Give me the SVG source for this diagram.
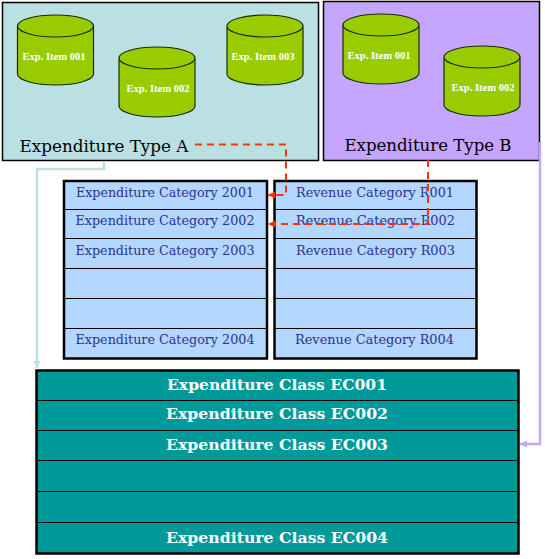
<svg xmlns="http://www.w3.org/2000/svg" width="545" height="559" viewBox="0 0 545 559">
<style>
.panel{stroke:#000;stroke-width:1.5}
.cyl{fill:#99cc00;stroke:#1a2a00;stroke-width:1.2}
.it{font:bold 11px "Liberation Serif",serif;fill:#fff;text-anchor:middle}
.ty{font:17px "DejaVu Serif",serif;fill:#000;text-anchor:middle}
.cell{fill:#b3d7ff;stroke:#000;stroke-width:1}
.out{fill:none;stroke:#000;stroke-width:2.5}
.cat{font:13px "DejaVu Serif",serif;fill:#2e3192;text-anchor:middle}
.cls{fill:#009999;stroke:#000;stroke-width:1}
.cl{font:bold 15px "DejaVu Serif",serif;fill:#fff;text-anchor:middle}
.c{fill:none}
</style>
<defs>
<marker id="ab" markerUnits="userSpaceOnUse" markerWidth="8" markerHeight="8" refX="7" refY="3.500" orient="auto"><path d="M0 0L7 3.500L0 7z" fill="#bbe0e3"/></marker>
<marker id="ar" markerUnits="userSpaceOnUse" markerWidth="8" markerHeight="8" refX="7" refY="3.500" orient="auto"><path d="M0 0L7 3.500L0 7z" fill="#ff3300"/></marker>
<marker id="ap" markerUnits="userSpaceOnUse" markerWidth="8" markerHeight="8" refX="7" refY="3.500" orient="auto"><path d="M0 0L7 3.500L0 7z" fill="#c4a6ff"/></marker>
<path id="cy" class="cyl" d="M0 11A38 11 0 0 1 76 11V59A38 11 0 0 1 0 59Z M76 11A38 11 0 0 1 0 11"/>
</defs>
<g id="type-a">
<rect class="panel" x="2.500" y="2.500" width="316" height="158" fill="#bbe0e3"/>
<text class="ty" x="104" y="152" textLength="169" lengthAdjust="spacingAndGlyphs">Expenditure Type A</text>
</g>
<g id="type-b">
<rect class="panel" x="323.500" y="1.500" width="216" height="159" fill="#c4a6ff"/>
<text class="ty" x="428" y="151" textLength="167" lengthAdjust="spacingAndGlyphs">Expenditure Type B</text>
</g>
<g id="a-item-001"><use href="#cy" x="17.500" y="15"/><text class="it" x="54" y="60" textLength="63" lengthAdjust="spacingAndGlyphs">Exp. Item 001</text></g>
<g id="a-item-002"><use href="#cy" x="119" y="47"/><text class="it" x="158" y="92" textLength="63" lengthAdjust="spacingAndGlyphs">Exp. Item 002</text></g>
<g id="a-item-003"><use href="#cy" x="227" y="15"/><text class="it" x="263" y="60" textLength="63" lengthAdjust="spacingAndGlyphs">Exp. Item 003</text></g>
<g id="b-item-001"><use href="#cy" x="343" y="14"/><text class="it" x="379" y="59" textLength="63" lengthAdjust="spacingAndGlyphs">Exp. Item 001</text></g>
<g id="b-item-002"><use href="#cy" x="444" y="46"/><text class="it" x="483" y="91" textLength="63" lengthAdjust="spacingAndGlyphs">Exp. Item 002</text></g>
<g id="expenditure-categories">
<rect class="cell" x="64" y="181" width="203" height="28.500"/>
<rect class="cell" x="64" y="209.500" width="203" height="29"/>
<rect class="cell" x="64" y="238.500" width="203" height="30"/>
<rect class="cell" x="64" y="268.500" width="203" height="30"/>
<rect class="cell" x="64" y="298.500" width="203" height="30"/>
<rect class="cell" x="64" y="328.500" width="203" height="30"/>
<rect class="out" x="64" y="181" width="203" height="177.500"/>
<text class="cat" x="165" y="196.500" textLength="178" lengthAdjust="spacingAndGlyphs">Expenditure Category 2001</text>
<text class="cat" x="165" y="224.500" textLength="179" lengthAdjust="spacingAndGlyphs">Expenditure Category 2002</text>
<text class="cat" x="165" y="254.500" textLength="179" lengthAdjust="spacingAndGlyphs">Expenditure Category 2003</text>
<text class="cat" x="165" y="343.500" textLength="179" lengthAdjust="spacingAndGlyphs">Expenditure Category 2004</text>
</g>
<g id="revenue-categories">
<rect class="cell" x="274.500" y="181" width="202" height="28.500"/>
<rect class="cell" x="274.500" y="209.500" width="202" height="29"/>
<rect class="cell" x="274.500" y="238.500" width="202" height="30"/>
<rect class="cell" x="274.500" y="268.500" width="202" height="30"/>
<rect class="cell" x="274.500" y="298.500" width="202" height="30"/>
<rect class="cell" x="274.500" y="328.500" width="202" height="30"/>
<rect class="out" x="274.500" y="181" width="202" height="177.500"/>
<text class="cat" x="375" y="196.500" textLength="158" lengthAdjust="spacingAndGlyphs">Revenue Category R001</text>
<text class="cat" x="375.500" y="224.500" textLength="159" lengthAdjust="spacingAndGlyphs">Revenue Category R002</text>
<text class="cat" x="375.500" y="254.500" textLength="159" lengthAdjust="spacingAndGlyphs">Revenue Category R003</text>
<text class="cat" x="374.500" y="343.500" textLength="159" lengthAdjust="spacingAndGlyphs">Revenue Category R004</text>
</g>
<g id="expenditure-classes">
<rect class="cls" x="36.500" y="370.500" width="482" height="30"/>
<rect class="cls" x="36.500" y="400.500" width="482" height="30"/>
<rect class="cls" x="36.500" y="430.500" width="482" height="30"/>
<rect class="cls" x="36.500" y="460.500" width="482" height="31"/>
<rect class="cls" x="36.500" y="491.500" width="482" height="31"/>
<rect class="cls" x="36.500" y="522.500" width="482" height="31"/>
<rect class="out" x="36.500" y="370.500" width="482" height="183"/>
<text class="cl" x="277" y="389.500" textLength="220" lengthAdjust="spacingAndGlyphs">Expenditure Class EC001</text>
<text class="cl" x="277" y="418.500" textLength="222" lengthAdjust="spacingAndGlyphs">Expenditure Class EC002</text>
<text class="cl" x="277" y="449.500" textLength="222" lengthAdjust="spacingAndGlyphs">Expenditure Class EC003</text>
<text class="cl" x="277" y="542.500" textLength="222" lengthAdjust="spacingAndGlyphs">Expenditure Class EC004</text>
</g>
<g id="connectors" class="c">
<path d="M104 161V169H37V368" stroke="#bbe0e3" stroke-width="2.500" marker-end="url(#ab)"/>
<path d="M540 142V444H520" stroke="#c4a6ff" stroke-width="2.500" marker-end="url(#ap)"/>
<path d="M195 144.500H286V195H268" stroke="#ff3300" stroke-width="2" stroke-dasharray="7 5" marker-end="url(#ar)"/>
<path d="M428 160V224H268" stroke="#ff3300" stroke-width="2" stroke-dasharray="7 5" marker-end="url(#ar)"/>
</g>
</svg>
